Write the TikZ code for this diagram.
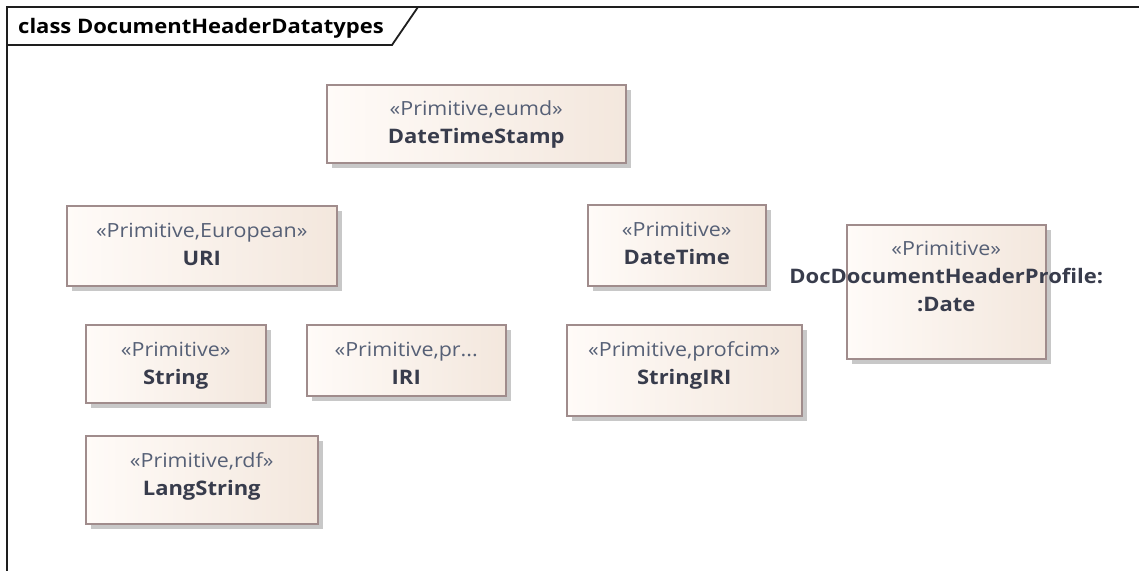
\documentclass[tikz,border=0pt]{standalone}
\usepackage{fontspec}
\setmainfont{Open Sans}[FakeStretch=1.1]
\usetikzlibrary{shadows}

\definecolor{boxline}{RGB}{160,140,140}
\definecolor{fillL}{RGB}{255,251,248}
\definecolor{fillR}{RGB}{243,231,221}
\definecolor{shadowc}{RGB}{200,200,200}
\definecolor{stereoc}{RGB}{86,96,118}
\definecolor{namec}{RGB}{56,60,76}
\definecolor{framec}{RGB}{30,30,30}

\tikzset{
  classbox/.style={draw=boxline, line width=1.5pt, left color=fillL, right color=fillR,
    anchor=north west, inner sep=0pt,
    drop shadow={shadow xshift=5pt, shadow yshift=-5pt, fill=shadowc, opacity=1}},
  stereo/.style={anchor=base, inner sep=0pt, text=stereoc, font=\fontsize{19.5}{28}\selectfont},
  cname/.style={anchor=base, inner sep=0pt, text=namec, font=\fontsize{20}{28}\selectfont\bfseries},
  frameline/.style={draw=framec, line width=1.8pt}
}

\begin{document}
\begin{tikzpicture}[x=1pt, y=-1pt]
  \useasboundingbox (0,0) rectangle (1139,570);
  \fill[white] (0,0) rectangle (1139,570);

  % diagram frame and its name tab
  \draw[frameline] (7,575) -- (7,7) -- (1145,7);
  \draw[frameline] (7,45) -- (392,45) -- (418,7);
  \node[anchor=base west, inner sep=0pt, font=\fontsize{20}{24}\selectfont\bfseries] (title) at (18,33) {class DocumentHeaderDatatypes};

  % primitive datatypes
  \node[classbox, minimum width=299pt, minimum height=78pt] (dts) at (326,84) {};
  \node[stereo] (dtsS) at ([yshift=-31pt]dts.north) {«Primitive,eumd»};
  \node[cname] (dtsN) at ([yshift=-59pt]dts.north) {DateTimeStamp};

  \node[classbox, minimum width=270pt, minimum height=80pt] (uri) at (66,205) {};
  \node[stereo] (uriS) at ([yshift=-32pt]uri.north) {«Primitive,European»};
  \node[cname] (uriN) at ([yshift=-60pt]uri.north) {URI};

  \node[classbox, minimum width=178pt, minimum height=81pt] (dt) at (587,204) {};
  \node[stereo] (dtS) at ([yshift=-32pt]dt.north) {«Primitive»};
  \node[cname] (dtN) at ([yshift=-60pt]dt.north) {DateTime};

  \node[classbox, minimum width=199pt, minimum height=134pt] (doc) at (846,224) {};
  \node[stereo] (docS) at ([yshift=-31pt]doc.north) {«Primitive»};
  \node[cname] (docN) at ([yshift=-59pt]doc.north) {DocDocumentHeaderProfile:};
  \node[cname] (docM) at ([yshift=-87pt]doc.north) {:Date};

  \node[classbox, minimum width=180pt, minimum height=78pt] (str) at (85,324) {};
  \node[stereo] (strS) at ([yshift=-32pt]str.north) {«Primitive»};
  \node[cname] (strN) at ([yshift=-60pt]str.north) {String};

  \node[classbox, minimum width=199pt, minimum height=71pt] (iri) at (306,324) {};
  \node[stereo] (iriS) at ([yshift=-32pt]iri.north) {«Primitive,pr...};
  \node[cname] (iriN) at ([yshift=-60pt]iri.north) {IRI};

  \node[classbox, minimum width=235pt, minimum height=91pt] (siri) at (566,324) {};
  \node[stereo] (siriS) at ([yshift=-32pt]siri.north) {«Primitive,profcim»};
  \node[cname] (siriN) at ([yshift=-60pt]siri.north) {StringIRI};

  \node[classbox, minimum width=232pt, minimum height=88pt] (lang) at (85,435) {};
  \node[stereo] (langS) at ([yshift=-32pt]lang.north) {«Primitive,rdf»};
  \node[cname] (langN) at ([yshift=-60pt]lang.north) {LangString};
\end{tikzpicture}
\end{document}
